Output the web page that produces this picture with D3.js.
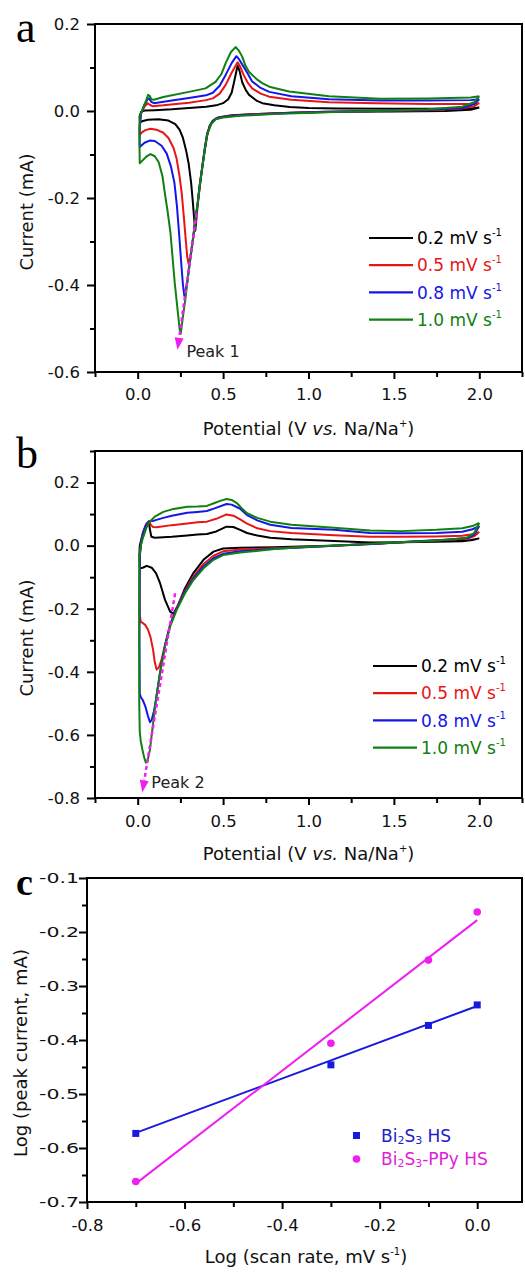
<!DOCTYPE html>
<html>
<head>
<meta charset="utf-8">
<script src="https://cdn.jsdelivr.net/npm/d3@7"></script>
<style>
  body { margin: 0; background: #fff; }
  svg text { font-family: "DejaVu Sans", Verdana, sans-serif; }
  svg text.letter { font-family: "Liberation Serif", "Times New Roman", serif; }
</style>
</head>
<body>
<svg id="chart" width="525" height="1273"></svg>
<script>
// ---------- data

const SCAN_RATES = ["0.2", "0.5", "0.8", "1.0"];
const CURVE_COLORS = ["#000000", "#e81515", "#1515e8", "#108010"];

// panel a : [potential V, current mA], cathodic scan from 2.0 V then anodic back
const CV_A_02 = [[2.0,0.008],[1.95,0.003],[1.8,0.0],[1.5,-0.001],[1.2,-0.002],[0.9,-0.004],[0.7,-0.007],[0.55,-0.01],[0.47,-0.015],[0.44,-0.022],[0.42,-0.035],[0.405,-0.06],[0.393,-0.09],[0.378,-0.13],[0.363,-0.175],[0.35,-0.22],[0.342,-0.255],[0.337,-0.275],[0.332,-0.255],[0.323,-0.21],[0.313,-0.166],[0.298,-0.12],[0.283,-0.09],[0.265,-0.062],[0.245,-0.043],[0.22,-0.03],[0.18,-0.022],[0.12,-0.019],[0.06,-0.02],[0.03,-0.023],[0.013,-0.026],[0.011,-0.012],[0.02,-0.002],[0.04,0.001],[0.1,0.002],[0.2,0.004],[0.3,0.007],[0.4,0.01],[0.46,0.013],[0.5,0.018],[0.53,0.027],[0.55,0.042],[0.565,0.068],[0.578,0.092],[0.585,0.104],[0.595,0.094],[0.612,0.066],[0.633,0.048],[0.652,0.037],[0.695,0.024],[0.73,0.018],[0.8,0.013],[0.89,0.009],[1.0,0.007],[1.17,0.006],[1.5,0.005],[1.85,0.005],[1.95,0.006],[2.0,0.008]];
const CV_A_05 = [[2.0,0.018],[1.97,0.011],[1.9,0.006],[1.7,0.002],[1.4,0.0],[1.1,-0.002],[0.8,-0.005],[0.6,-0.009],[0.5,-0.013],[0.456,-0.018],[0.43,-0.029],[0.407,-0.051],[0.393,-0.085],[0.378,-0.128],[0.363,-0.17],[0.35,-0.215],[0.339,-0.245],[0.325,-0.29],[0.31,-0.33],[0.298,-0.352],[0.29,-0.335],[0.28,-0.29],[0.27,-0.243],[0.258,-0.19],[0.245,-0.15],[0.228,-0.11],[0.21,-0.085],[0.18,-0.062],[0.15,-0.05],[0.11,-0.043],[0.075,-0.041],[0.045,-0.044],[0.025,-0.049],[0.012,-0.055],[0.011,-0.03],[0.02,-0.005],[0.04,0.01],[0.058,0.018],[0.068,0.015],[0.085,0.011],[0.15,0.013],[0.3,0.019],[0.4,0.025],[0.44,0.029],[0.48,0.04],[0.515,0.06],[0.55,0.088],[0.585,0.112],[0.6,0.102],[0.62,0.083],[0.643,0.066],[0.67,0.052],[0.72,0.04],[0.77,0.033],[0.9,0.026],[1.12,0.02],[1.4,0.018],[1.7,0.016],[1.95,0.016],[2.0,0.018]];
const CV_A_08 = [[2.0,0.027],[1.97,0.016],[1.9,0.007],[1.7,0.003],[1.4,0.0],[1.1,-0.002],[0.8,-0.006],[0.6,-0.01],[0.5,-0.014],[0.456,-0.018],[0.43,-0.029],[0.407,-0.052],[0.393,-0.086],[0.378,-0.129],[0.363,-0.171],[0.35,-0.216],[0.339,-0.245],[0.325,-0.29],[0.305,-0.35],[0.29,-0.395],[0.273,-0.425],[0.265,-0.4],[0.255,-0.35],[0.242,-0.28],[0.23,-0.22],[0.215,-0.165],[0.195,-0.128],[0.17,-0.098],[0.14,-0.08],[0.1,-0.069],[0.07,-0.068],[0.04,-0.073],[0.012,-0.083],[0.011,-0.04],[0.02,-0.005],[0.04,0.015],[0.058,0.027],[0.066,0.029],[0.08,0.021],[0.095,0.018],[0.2,0.024],[0.3,0.03],[0.4,0.036],[0.44,0.042],[0.48,0.058],[0.515,0.083],[0.55,0.11],[0.578,0.126],[0.595,0.118],[0.62,0.102],[0.643,0.087],[0.67,0.068],[0.72,0.053],[0.77,0.044],[0.9,0.034],[1.12,0.027],[1.42,0.024],[1.7,0.024],[1.95,0.025],[2.0,0.027]];
const CV_A_10 = [[2.0,0.034],[1.97,0.02],[1.9,0.01],[1.7,0.004],[1.4,0.0],[1.1,-0.003],[0.8,-0.007],[0.6,-0.011],[0.5,-0.015],[0.456,-0.019],[0.43,-0.03],[0.407,-0.053],[0.393,-0.087],[0.378,-0.13],[0.363,-0.172],[0.35,-0.217],[0.339,-0.246],[0.325,-0.292],[0.3,-0.36],[0.28,-0.43],[0.265,-0.472],[0.252,-0.512],[0.245,-0.5],[0.237,-0.47],[0.217,-0.396],[0.192,-0.281],[0.175,-0.23],[0.163,-0.2],[0.145,-0.15],[0.123,-0.118],[0.1,-0.104],[0.075,-0.099],[0.05,-0.105],[0.03,-0.113],[0.012,-0.12],[0.01,-0.06],[0.012,-0.013],[0.03,0.005],[0.05,0.025],[0.061,0.037],[0.07,0.035],[0.08,0.027],[0.095,0.026],[0.15,0.032],[0.3,0.044],[0.397,0.052],[0.456,0.067],[0.49,0.085],[0.515,0.11],[0.545,0.135],[0.573,0.147],[0.59,0.14],[0.612,0.125],[0.63,0.105],[0.651,0.09],[0.7,0.072],[0.729,0.064],[0.776,0.055],[0.886,0.045],[1.12,0.034],[1.42,0.028],[1.7,0.029],[1.95,0.031],[2.0,0.034]];

// panel b
const CV_B_02 = [[2.0,0.023],[1.95,0.018],[1.85,0.016],[1.7,0.013],[1.5,0.009],[1.3,0.004],[1.13,0.0],[0.95,-0.003],[0.8,-0.005],[0.6,-0.007],[0.5,-0.009],[0.444,-0.019],[0.385,-0.045],[0.326,-0.087],[0.277,-0.135],[0.233,-0.193],[0.209,-0.216],[0.19,-0.209],[0.16,-0.172],[0.131,-0.119],[0.107,-0.087],[0.082,-0.07],[0.053,-0.064],[0.029,-0.07],[0.013,-0.072],[0.01,-0.03],[0.012,0.0],[0.03,0.04],[0.05,0.068],[0.065,0.077],[0.072,0.05],[0.08,0.028],[0.1,0.025],[0.2,0.028],[0.29,0.032],[0.35,0.035],[0.405,0.037],[0.46,0.045],[0.52,0.06],[0.56,0.059],[0.6,0.05],[0.64,0.04],[0.7,0.032],[0.776,0.025],[0.9,0.02],[1.15,0.015],[1.36,0.01],[1.54,0.011],[1.75,0.012],[1.9,0.014],[1.96,0.018],[2.0,0.023]];
const CV_B_05 = [[2.0,0.043],[1.97,0.03],[1.93,0.022],[1.8,0.018],[1.6,0.012],[1.4,0.006],[1.15,0.0],[0.95,-0.005],[0.8,-0.008],[0.6,-0.012],[0.5,-0.018],[0.444,-0.032],[0.385,-0.058],[0.326,-0.098],[0.277,-0.142],[0.229,-0.196],[0.19,-0.25],[0.16,-0.315],[0.14,-0.36],[0.125,-0.385],[0.111,-0.393],[0.1,-0.37],[0.09,-0.33],[0.075,-0.29],[0.06,-0.266],[0.045,-0.252],[0.03,-0.245],[0.018,-0.242],[0.012,-0.22],[0.011,-0.1],[0.013,-0.02],[0.025,0.025],[0.04,0.055],[0.055,0.072],[0.067,0.077],[0.078,0.065],[0.09,0.059],[0.11,0.058],[0.2,0.065],[0.29,0.07],[0.35,0.074],[0.405,0.076],[0.46,0.085],[0.52,0.099],[0.56,0.095],[0.6,0.083],[0.64,0.07],[0.7,0.055],[0.776,0.046],[0.9,0.04],[1.15,0.033],[1.36,0.028],[1.54,0.028],[1.75,0.029],[1.9,0.031],[1.96,0.036],[2.0,0.043]];
const CV_B_08 = [[2.0,0.062],[1.97,0.035],[1.93,0.024],[1.8,0.019],[1.6,0.013],[1.4,0.006],[1.15,0.0],[0.95,-0.006],[0.8,-0.01],[0.6,-0.018],[0.5,-0.026],[0.444,-0.04],[0.385,-0.066],[0.326,-0.104],[0.277,-0.146],[0.229,-0.198],[0.19,-0.252],[0.16,-0.316],[0.131,-0.4],[0.107,-0.488],[0.095,-0.525],[0.082,-0.552],[0.072,-0.56],[0.06,-0.54],[0.045,-0.51],[0.03,-0.49],[0.018,-0.48],[0.012,-0.47],[0.01,-0.3],[0.011,-0.12],[0.013,-0.03],[0.022,0.015],[0.035,0.045],[0.05,0.066],[0.065,0.076],[0.075,0.077],[0.1,0.08],[0.15,0.088],[0.2,0.095],[0.29,0.104],[0.35,0.107],[0.405,0.11],[0.45,0.118],[0.52,0.132],[0.55,0.13],[0.6,0.117],[0.64,0.097],[0.7,0.08],[0.776,0.066],[0.9,0.056],[1.15,0.05],[1.36,0.04],[1.54,0.039],[1.75,0.04],[1.9,0.044],[1.96,0.052],[2.0,0.062]];
const CV_B_10 = [[2.0,0.072],[1.97,0.04],[1.93,0.026],[1.85,0.02],[1.7,0.015],[1.5,0.01],[1.3,0.004],[1.13,0.0],[0.95,-0.005],[0.8,-0.011],[0.6,-0.022],[0.5,-0.03],[0.444,-0.045],[0.385,-0.072],[0.326,-0.109],[0.277,-0.151],[0.229,-0.203],[0.19,-0.256],[0.16,-0.319],[0.131,-0.404],[0.107,-0.488],[0.088,-0.572],[0.072,-0.646],[0.057,-0.683],[0.048,-0.688],[0.038,-0.672],[0.028,-0.648],[0.018,-0.62],[0.012,-0.59],[0.009,-0.5],[0.009,-0.2],[0.01,-0.035],[0.02,0.005],[0.033,0.028],[0.05,0.055],[0.063,0.071],[0.075,0.078],[0.1,0.092],[0.15,0.107],[0.2,0.115],[0.29,0.123],[0.35,0.124],[0.405,0.126],[0.45,0.135],[0.483,0.142],[0.52,0.148],[0.55,0.145],[0.58,0.135],[0.61,0.118],[0.64,0.103],[0.7,0.088],[0.776,0.076],[0.9,0.066],[1.15,0.057],[1.36,0.048],[1.54,0.046],[1.75,0.05],[1.9,0.055],[1.96,0.062],[2.0,0.072]];

const CV_A = [CV_A_02, CV_A_05, CV_A_08, CV_A_10];
const CV_B = [CV_B_02, CV_B_05, CV_B_08, CV_B_10];

const POTENTIAL_TICKS = [0.0, 0.5, 1.0, 1.5, 2.0];
const POTENTIAL_MINOR = [-0.25, 0.25, 0.75, 1.25, 1.75, 2.25];
const CURRENT_A_TICKS = [-0.6, -0.4, -0.2, 0.0, 0.2];
const CURRENT_A_MINOR = [-0.5, -0.3, -0.1, 0.1];
const CURRENT_B_TICKS = [-0.8, -0.6, -0.4, -0.2, 0.0, 0.2];
const CURRENT_B_MINOR = [-0.7, -0.5, -0.3, -0.1, 0.1, 0.3];

// peak shift guides: [start, arrow tip]
const PEAK1_LINE = [[0.345, -0.235], [0.233, -0.549]];
const PEAK2_LINE = [[0.219, -0.151], [0.027, -0.782]];
const PEAK1_LABEL = [0.285, -0.553];
const PEAK2_LABEL = [0.08, -0.75];

// panel c
const LOG_SCAN_RATE = [-0.7, -0.3, -0.1, 0.0];
const LOG_IP_BI2S3 = [-0.573, -0.446, -0.373, -0.335];
const LOG_IP_PPY = [-0.662, -0.406, -0.252, -0.163];
const FIT_X = [-0.7, 0.0];
const FIT_BI2S3 = [-0.572, -0.337];
const FIT_PPY = [-0.666, -0.178];
const LOG_RATE_TICKS = [-0.8, -0.6, -0.4, -0.2, 0.0];
const LOG_RATE_MINOR = [-0.7, -0.5, -0.3, -0.1, 0.1];
const LOG_IP_TICKS = [-0.7, -0.6, -0.5, -0.4, -0.3, -0.2, -0.1];
const LOG_IP_MINOR = [-0.65, -0.55, -0.45, -0.35, -0.25, -0.15];

const BLUE_C = "#1a1adc";
const MAGENTA = "#f01ef0";

// ----------

const svg = d3.select("#chart");

function fmt(d) {
  return d.toFixed(1);
}

function drawFrame(x, y) {
  const [x0, x1] = x.range();
  const [y0, y1] = y.range();
  svg.append("rect")
    .attr("x", x0).attr("y", y1)
    .attr("width", Math.min(x1, 522) - x0).attr("height", y0 - y1)
    .attr("fill", "none").attr("stroke", "#000").attr("stroke-width", 2);
}

function drawAxes(x, y, xMajor, xMinor, yMajor, yMinor, xPad, yPad) {
  const yBottom = y.range()[0];
  const xLeft = x.range()[0];

  const gx = svg.append("g").attr("transform", "translate(0," + yBottom + ")")
    .call(d3.axisBottom(x).tickValues(xMajor).tickSize(7).tickPadding(xPad).tickFormat(fmt));
  const gxm = svg.append("g").attr("transform", "translate(0," + yBottom + ")")
    .call(d3.axisBottom(x).tickValues(xMinor).tickSize(5).tickFormat(""));
  const gy = svg.append("g").attr("transform", "translate(" + xLeft + ",0)")
    .call(d3.axisLeft(y).tickValues(yMajor).tickSize(8).tickPadding(yPad).tickFormat(fmt));
  const gym = svg.append("g").attr("transform", "translate(" + xLeft + ",0)")
    .call(d3.axisLeft(y).tickValues(yMinor).tickSize(5).tickFormat(""));

  [gx, gxm, gy, gym].forEach(function (g) {
    g.select(".domain").remove();
    g.selectAll("line").attr("stroke", "#000").attr("stroke-width", 2);
    g.selectAll("text").attr("font-family", "DejaVu Sans").attr("font-size", 16.5).attr("fill", "#111");
  });
  return gy;
}

function potentialTitle(cx, baseline) {
  const t = svg.append("text")
    .attr("x", cx).attr("y", baseline)
    .attr("text-anchor", "middle").attr("font-size", 18).attr("fill", "#111");
  t.append("tspan").text("Potential (V ");
  t.append("tspan").attr("font-style", "italic").text("vs.");
  t.append("tspan").text(" Na/Na");
  t.append("tspan").attr("font-size", 10).attr("dy", -8).text("+");
  t.append("tspan").attr("dy", 8).text(")");
}

function yTitle(cx, cy, label) {
  svg.append("text")
    .attr("transform", "translate(" + cx + "," + cy + ") rotate(-90)")
    .attr("text-anchor", "middle").attr("dy", "0.35em")
    .attr("font-size", 18).attr("fill", "#111")
    .text(label);
}

function panelLetter(px, baseline, letter, size, bold) {
  svg.append("text")
    .attr("class", "letter")
    .attr("x", px).attr("y", baseline)
    .attr("font-size", size).attr("font-weight", bold ? "bold" : "normal")
    .attr("fill", "#000")
    .text(letter);
}

function drawPeakGuide(x, y, guide, labelPos, labelText) {
  const p0 = [x(guide[0][0]), y(guide[0][1])];
  const tip = [x(guide[1][0]), y(guide[1][1])];
  const dx = tip[0] - p0[0], dy = tip[1] - p0[1];
  const len = Math.sqrt(dx * dx + dy * dy);
  const ux = dx / len, uy = dy / len;
  const headLen = 12, headHalf = 4.5;
  const base = [tip[0] - ux * headLen, tip[1] - uy * headLen];

  svg.append("line")
    .attr("x1", p0[0]).attr("y1", p0[1]).attr("x2", base[0]).attr("y2", base[1])
    .attr("stroke", MAGENTA).attr("stroke-width", 2.5).attr("stroke-dasharray", "4 3");
  svg.append("path")
    .attr("d", "M" + tip[0] + "," + tip[1] +
      "L" + (base[0] - uy * headHalf) + "," + (base[1] + ux * headHalf) +
      "L" + (base[0] + uy * headHalf) + "," + (base[1] - ux * headHalf) + "Z")
    .attr("fill", MAGENTA);

  svg.append("text")
    .attr("x", x(labelPos[0])).attr("y", y(labelPos[1]))
    .attr("dy", "0.36em").attr("font-size", 16).attr("fill", "#222")
    .text(labelText);
}

function drawLegend(lx, ly, gap) {
  SCAN_RATES.forEach(function (rate, i) {
    const yy = ly + i * gap;
    svg.append("line")
      .attr("x1", lx).attr("x2", lx + 44).attr("y1", yy).attr("y2", yy)
      .attr("stroke", CURVE_COLORS[i]).attr("stroke-width", 2.2);
    const t = svg.append("text")
      .attr("x", lx + 48).attr("y", yy).attr("dy", "0.36em")
      .attr("font-size", 17).attr("fill", CURVE_COLORS[i]);
    t.append("tspan").text(rate + " mV s");
    t.append("tspan").attr("font-size", 10).attr("dy", -8).text("-1");
  });
}

function drawCvPanel(cfg) {
  const x = d3.scaleLinear().domain([-0.25, 2.25]).range([95, 522]);
  const y = d3.scaleLinear().domain(cfg.yDomain).range([cfg.bottom, cfg.top]);

  const line = d3.line()
    .x(function (d) { return x(d[0]); })
    .y(function (d) { return y(d[1]); });

  svg.append("g").selectAll("path")
    .data(cfg.curves)
    .enter()
    .append("path")
    .attr("d", line)
    .attr("fill", "none")
    .attr("stroke", function (d, i) { return CURVE_COLORS[i]; })
    .attr("stroke-width", 2)
    .attr("stroke-linejoin", "round");

  drawPeakGuide(x, y, cfg.guide, cfg.labelPos, cfg.labelText);
  drawFrame(x, y);
  drawAxes(x, y, POTENTIAL_TICKS, POTENTIAL_MINOR, cfg.yTicks, cfg.yMinor, cfg.xPad, 7);
  potentialTitle(x(1.0), cfg.titleBaseline);
  yTitle(27, cfg.yTitleCenter, "Current (mA)");
  drawLegend(cfg.legendX, cfg.legendY, 27.2);
  panelLetter(16, cfg.letterBaseline, cfg.letter, 44, false);
}

function drawLogPanel() {
  const x = d3.scaleLinear().domain([-0.8, 0.1]).range([87, 526]);
  const y = d3.scaleLinear().domain([-0.7, -0.1]).range([1202, 878]);

  const fitLine = d3.line()
    .x(function (d) { return x(d[0]); })
    .y(function (d) { return y(d[1]); });

  const fits = [
    { pts: d3.zip(FIT_X, FIT_BI2S3), color: BLUE_C },
    { pts: d3.zip(FIT_X, FIT_PPY), color: MAGENTA }
  ];
  svg.append("g").selectAll("path")
    .data(fits)
    .enter()
    .append("path")
    .attr("d", function (d) { return fitLine(d.pts); })
    .attr("fill", "none")
    .attr("stroke", function (d) { return d.color; })
    .attr("stroke-width", 2);

  svg.append("g").selectAll("rect")
    .data(d3.zip(LOG_SCAN_RATE, LOG_IP_BI2S3))
    .enter()
    .append("rect")
    .attr("x", function (d) { return x(d[0]) - 3.5; })
    .attr("y", function (d) { return y(d[1]) - 3.5; })
    .attr("width", 7).attr("height", 7)
    .attr("fill", BLUE_C);

  svg.append("g").selectAll("circle")
    .data(d3.zip(LOG_SCAN_RATE, LOG_IP_PPY))
    .enter()
    .append("circle")
    .attr("cx", function (d) { return x(d[0]); })
    .attr("cy", function (d) { return y(d[1]); })
    .attr("r", 3.8)
    .attr("fill", MAGENTA);

  drawFrame(x, y);
  const gy = drawAxes(x, y, LOG_RATE_TICKS, LOG_RATE_MINOR, LOG_IP_TICKS, LOG_IP_MINOR, 10, 0);
  // y tick labels of this panel are drawn wide and flat in the original
  gy.selectAll("text")
    .attr("font-size", 13.5)
    .attr("textLength", 40)
    .attr("lengthAdjust", "spacingAndGlyphs");

  const t = svg.append("text")
    .attr("x", 306).attr("y", 1263)
    .attr("text-anchor", "middle").attr("font-size", 18).attr("fill", "#111");
  t.append("tspan").text("Log (scan rate, mV s");
  t.append("tspan").attr("font-size", 10).attr("dy", -8).text("-1");
  t.append("tspan").attr("dy", 8).text(")");

  yTitle(21, 1053, "Log (peak current, mA)");

  // legend
  svg.append("rect").attr("x", 353).attr("y", 1132).attr("width", 7).attr("height", 7).attr("fill", BLUE_C);
  svg.append("circle").attr("cx", 356.5).attr("cy", 1159).attr("r", 3.8).attr("fill", MAGENTA);

  const l1 = svg.append("text").attr("x", 381).attr("y", 1135.5).attr("dy", "0.36em")
    .attr("font-size", 17).attr("fill", "#2020c8");
  l1.append("tspan").text("Bi");
  l1.append("tspan").attr("font-size", 11).attr("dy", 2).text("2");
  l1.append("tspan").attr("dy", -2).text("S");
  l1.append("tspan").attr("font-size", 11).attr("dy", 2).text("3");
  l1.append("tspan").attr("dy", -2).text(" HS");

  const l2 = svg.append("text").attr("x", 381).attr("y", 1159).attr("dy", "0.36em")
    .attr("font-size", 17).attr("fill", "#e020d8");
  l2.append("tspan").text("Bi");
  l2.append("tspan").attr("font-size", 11).attr("dy", 2).text("2");
  l2.append("tspan").attr("dy", -2).text("S");
  l2.append("tspan").attr("font-size", 11).attr("dy", 2).text("3");
  l2.append("tspan").attr("dy", -2).text("-PPy HS");

  panelLetter(16, 895, "c", 38, true);
}

// ----------

drawCvPanel({
  top: 24, bottom: 372, yDomain: [-0.6, 0.2],
  yTicks: CURRENT_A_TICKS, yMinor: CURRENT_A_MINOR,
  curves: CV_A, guide: PEAK1_LINE, labelPos: PEAK1_LABEL, labelText: "Peak 1",
  xPad: 9, titleBaseline: 435, yTitleCenter: 212,
  legendX: 369, legendY: 238, letter: "a", letterBaseline: 42
});

drawCvPanel({
  top: 451, bottom: 798, yDomain: [-0.8, 0.3],
  yTicks: CURRENT_B_TICKS, yMinor: CURRENT_B_MINOR,
  curves: CV_B, guide: PEAK2_LINE, labelPos: PEAK2_LABEL, labelText: "Peak 2",
  xPad: 10, titleBaseline: 860, yTitleCenter: 638,
  legendX: 373, legendY: 666, letter: "b", letterBaseline: 468
});

drawLogPanel();
</script>
</body>
</html>
